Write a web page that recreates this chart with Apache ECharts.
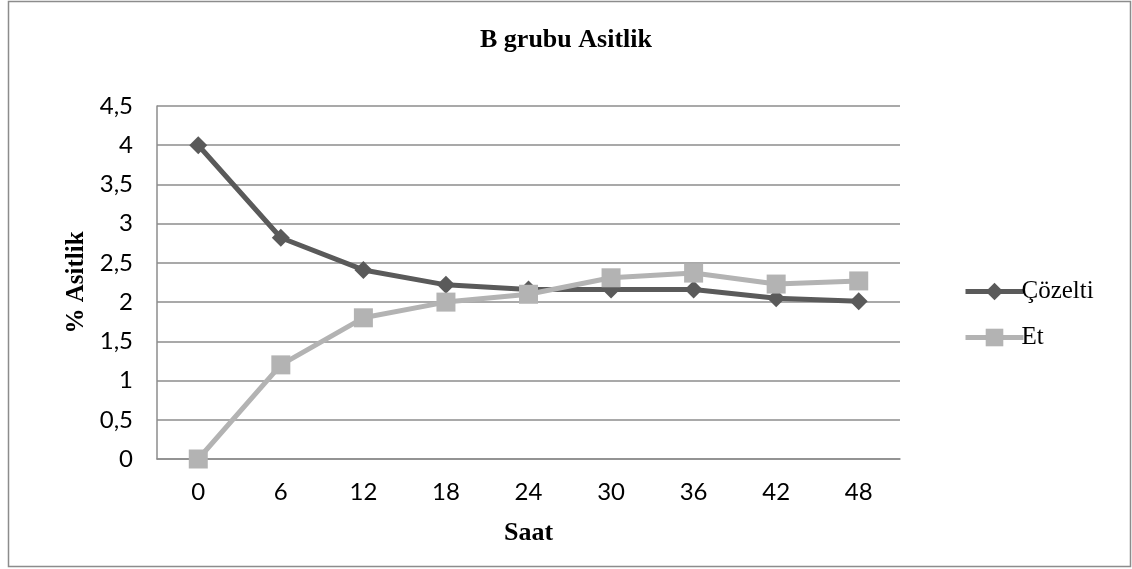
<!DOCTYPE html>
<html>
<head>
<meta charset="utf-8">
<script src="https://cdn.jsdelivr.net/npm/echarts@6/dist/echarts.min.js"></script>
<style>
  html, body { margin: 0; padding: 0; background: #fff; }
  #chart { width: 1132px; height: 569px; }
</style>
</head>
<body>
<div id="chart"></div>
<script>
// Hours on the x axis
const hours = ['0', '6', '12', '18', '24', '30', '36', '42', '48'];
// Acidity (%) of the brine solution
const cozelti = [4.0, 2.82, 2.41, 2.22, 2.16, 2.16, 2.16, 2.05, 2.01];
// Acidity (%) of the meat
const et = [0.0, 1.20, 1.80, 2.00, 2.10, 2.31, 2.37, 2.23, 2.27];

const serif = '"Liberation Serif", "DejaVu Serif", serif';
const sans = 'Lato, "Open Sans", sans-serif';

const chart = echarts.init(document.getElementById('chart'), null, { renderer: 'canvas' });
chart.setOption({
  backgroundColor: '#ffffff',
  animation: false,
  graphic: [{
    type: 'rect',
    shape: { x: 8.5, y: 1.5, width: 1122, height: 565 },
    style: { fill: 'none', stroke: '#8c8c8c', lineWidth: 1.5 },
    silent: true
  }],
  title: {
    text: 'B grubu Asitlik',
    left: 'center',
    top: 22,
    textStyle: { fontFamily: serif, fontSize: 26, fontWeight: 'bold', color: '#000' }
  },
  legend: {
    orient: 'vertical',
    left: 958,
    top: 274,
    itemWidth: 58,
    itemHeight: 22,
    itemGap: 21,
    lineStyle: { width: 5 },
    textStyle: { fontFamily: serif, fontSize: 25, color: '#000', padding: [0, 0, 0, -7] },
    data: ['Çözelti', 'Et']
  },
  grid: { left: 157, right: 232, top: 106, bottom: 110, containLabel: false },
  xAxis: {
    type: 'category',
    data: hours,
    boundaryGap: true,
    name: 'Saat',
    nameLocation: 'middle',
    nameGap: 61,
    nameTextStyle: { fontFamily: serif, fontSize: 26, fontWeight: 'bold', color: '#000' },
    axisLine: { lineStyle: { color: '#8c8c8c', width: 1.5 } },
    axisTick: { show: false },
    axisLabel: { fontFamily: sans, fontSize: 24, color: '#000', margin: 21 }
  },
  yAxis: {
    type: 'value',
    min: 0,
    max: 4.5,
    interval: 0.5,
    name: '% Asitlik',
    nameLocation: 'middle',
    nameGap: 68,
    nameRotate: 90,
    nameTextStyle: { fontFamily: serif, fontSize: 25, fontWeight: 'bold', color: '#000' },
    axisLine: { show: true, lineStyle: { color: '#8c8c8c', width: 1.5 } },
    axisTick: { show: false },
    splitLine: { lineStyle: { color: '#8c8c8c', width: 1.5 } },
    axisLabel: {
      fontFamily: sans, fontSize: 24, color: '#000', margin: 24,
      formatter: v => String(v).replace('.', ',')
    }
  },
  series: [
    {
      name: 'Çözelti',
      type: 'line',
      data: cozelti,
      symbol: 'diamond',
      symbolSize: 18,
      lineStyle: { color: '#5a5a5a', width: 5 },
      itemStyle: { color: '#5a5a5a' },
      z: 2
    },
    {
      name: 'Et',
      type: 'line',
      data: et,
      symbol: 'rect',
      symbolSize: 19,
      lineStyle: { color: '#b3b3b3', width: 5 },
      itemStyle: { color: '#b3b3b3' },
      z: 3
    }
  ]
});
</script>
</body>
</html>
